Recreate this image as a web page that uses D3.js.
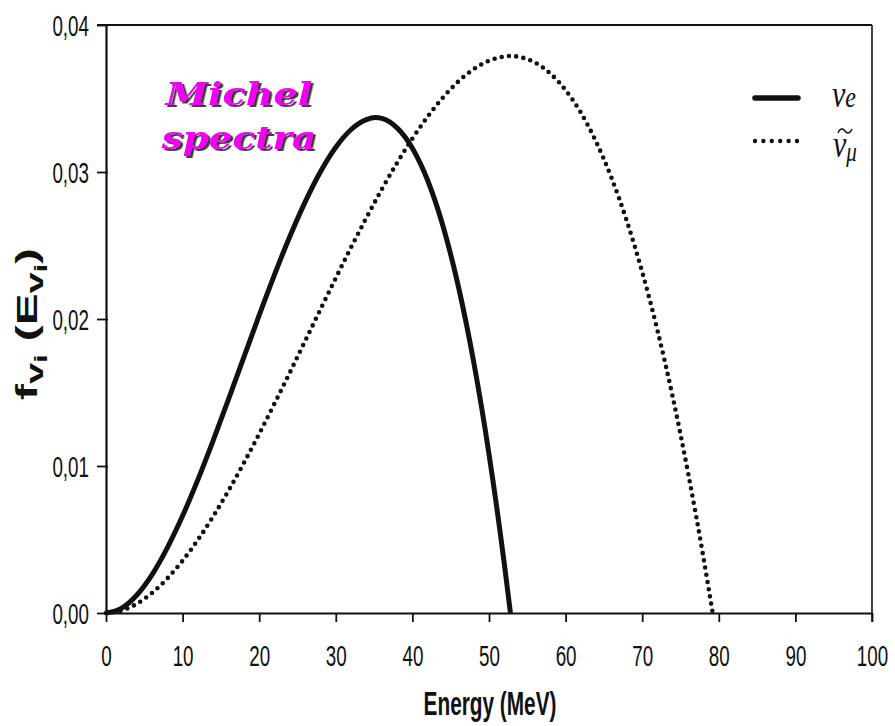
<!DOCTYPE html>
<html><head><meta charset="utf-8">
<script src="https://cdn.jsdelivr.net/npm/d3@7"></script>
<style>
html,body{margin:0;padding:0;background:#fff;}
svg{display:block;}
</style></head>
<body>
<svg id="chart" width="895" height="726"></svg>
<script>
// ---- data ----
const energyNuE = [0,2,4,6,8,10,12,14,16,18,20,22,24,26,28,30,32,34,35.2,36,38,40,42,44,46,48,50,52,52.8];
const fluxNuE   = [0,0.00031,0.00121,0.00260,0.00443,0.00661,0.00907,0.01174,0.01455,0.01741,0.02026,0.02302,0.02561,0.02797,0.03002,0.03168,0.03289,0.03356,0.03370,0.03365,0.03300,0.03162,0.02942,0.02631,0.02222,0.01708,0.01081,0.00334,0];
const energyNuMu = [0,2,4,6,8,10,12,14,16,18,20,22,24,26,28,30,32,34,36,38,40,42,44,46,48,50,52,52.8,54,56,58,60,62,64,66,68,70,72,74,76,78,79.2];
const fluxNuMu   = [0,0.00016,0.00062,0.00136,0.00235,0.00356,0.00498,0.00658,0.00833,0.01021,0.01219,0.01425,0.01636,0.01851,0.02066,0.02279,0.02488,0.02689,0.02882,0.03062,0.03228,0.03377,0.03507,0.03616,0.03700,0.03757,0.03785,0.03790,0.03782,0.03745,0.03670,0.03557,0.03403,0.03204,0.02959,0.02665,0.02320,0.01921,0.01466,0.00951,0.00376,0];
const xTicks = [0,10,20,30,40,50,60,70,80,90,100];
const yTicks = [0,0.01,0.02,0.03,0.04];
const xTitle = "Energy (MeV)";
const annotation = ["Michel", "spectra"];

// ---- layout ----
const svg = d3.select("#chart");
const L = 106, R = 872, T = 25, B = 613;
const x = d3.scaleLinear().domain([0,100]).range([L,R]);
const y = d3.scaleLinear().domain([0,0.04]).range([B,T]);
const SX = 0.8, SY = 1.25;
const ink = "#111";

const defs = svg.append("defs");
defs.append("filter").attr("id","shadow").attr("x","-10%").attr("y","-20%").attr("width","130%").attr("height","150%")
  .append("feDropShadow").attr("dx",1.8).attr("dy",1.8).attr("stdDeviation",0.3)
  .attr("flood-color","#3a3a3a").attr("flood-opacity",1);

// frame (top and right)
svg.append("line").attr("x1",97).attr("x2",R).attr("y1",T).attr("y2",T)
  .attr("stroke",ink).attr("stroke-width",2.2);
svg.append("line").attr("x1",R).attr("x2",R).attr("y1",T).attr("y2",B+9)
  .attr("stroke",ink).attr("stroke-width",1.6);

// axes
const fmt = d => d3.format(".2f")(d).replace(".", ",");
const gx = svg.append("g").attr("transform",`translate(0,${B})`)
  .call(d3.axisBottom(x).tickValues(xTicks).tickSize(9).tickSizeOuter(0).tickFormat(d3.format("d")));
const gy = svg.append("g").attr("transform",`translate(${L},0)`)
  .call(d3.axisLeft(y).tickValues(yTicks).tickSize(9).tickSizeOuter(0).tickFormat(fmt));
[gx,gy].forEach(g=>{
  g.select(".domain").attr("stroke",ink).attr("stroke-width",2.2);
  g.selectAll(".tick line").attr("stroke",ink).attr("stroke-width",1.8);
  g.selectAll(".tick text").attr("font-family","'Liberation Sans', Arial, sans-serif")
    .attr("font-size",23.5).attr("fill",ink).attr("dy",null);
});
gy.selectAll(".tick line").attr("x2",-9).attr("x1",2);
gx.selectAll(".tick text").attr("x",0).attr("y",53/SY).attr("text-anchor","middle")
  .attr("transform",`scale(${SX},${SY})`);
gy.selectAll(".tick text").attr("x",-17/SX).attr("y",10.5/SY).attr("text-anchor","end")
  .attr("transform",`scale(${SX},${SY})`);

// x title
svg.append("text").attr("transform",`translate(490,715) scale(${SX},${SY})`)
  .attr("text-anchor","middle").attr("font-family","'Liberation Sans', Arial, sans-serif")
  .attr("font-weight","bold").attr("font-size",26).attr("fill",ink).text(xTitle);

// y title: f_{v_i} (E_{v_i})
const yt = svg.append("text").attr("text-anchor","middle")
  .attr("font-family","'Liberation Sans', Arial, sans-serif").attr("font-weight","bold")
  .attr("font-size",29).attr("fill",ink);
yt.append("tspan").text("f");
yt.append("tspan").attr("font-size",23).attr("dy",6).text("v");
yt.append("tspan").attr("font-size",18).attr("dy",4).text("i");
yt.append("tspan").attr("dy",-10).text(" (E");
yt.append("tspan").attr("font-size",23).attr("dy",6).text("v");
yt.append("tspan").attr("font-size",18).attr("dy",4).text("i");
yt.append("tspan").attr("dy",-10).text(")");
const ytw = yt.node().getBBox().width;
yt.attr("transform",`translate(37,324) rotate(-90) scale(${152/ytw},1)`);

// curves
const line = d3.line().x(d=>x(d[0])).y(d=>y(d[1])).curve(d3.curveMonotoneX);
svg.append("path").datum(d3.zip(energyNuMu, fluxNuMu)).attr("d",line)
  .attr("fill","none").attr("stroke",ink).attr("stroke-width",4.6)
  .attr("stroke-linecap","round").attr("stroke-dasharray","0 7.3");
svg.append("path").datum(d3.zip(energyNuE, fluxNuE)).attr("d",line)
  .attr("fill","none").attr("stroke",ink).attr("stroke-width",5);

// legend
svg.append("line").attr("x1",755).attr("x2",798).attr("y1",98).attr("y2",98)
  .attr("stroke",ink).attr("stroke-width",5.5).attr("stroke-linecap","round");
svg.append("line").attr("x1",755).attr("x2",797).attr("y1",141).attr("y2",141)
  .attr("stroke",ink).attr("stroke-width",4.4).attr("stroke-linecap","round").attr("stroke-dasharray","0 8.4");
const serif = "'Liberation Serif','Times New Roman',serif";
const l1 = svg.append("text").attr("transform",`translate(832,107) scale(1,${SY})`)
  .attr("font-family",serif).attr("font-style","italic").attr("font-size",30).attr("fill",ink);
l1.append("tspan").text("ν");
l1.append("tspan").attr("font-size",24).attr("dy",0).text("e");
const l2 = svg.append("text").attr("transform",`translate(833,157) scale(1,${SY})`)
  .attr("font-family",serif).attr("font-style","italic").attr("font-size",30).attr("fill",ink);
l2.append("tspan").text("ν");
l2.append("tspan").attr("font-size",21).attr("dy",3).text("μ");
// tilde accent over the nu
svg.append("path").attr("d","M838,133 C840,128 843,128 845,131 C847,134 850,134 852,129")
  .attr("fill","none").attr("stroke",ink).attr("stroke-width",1.4);

// annotation
const ann = [{t:annotation[0], y:105, w:148},{t:annotation[1], y:149, w:156}];
ann.forEach(a=>{
  const t = svg.append("text").attr("text-anchor","middle")
    .attr("font-family","'DejaVu Serif',serif").attr("font-weight","bold").attr("font-style","italic")
    .attr("font-size",28).attr("fill","#f000f0").attr("filter","url(#shadow)").text(a.t);
  const w = t.node().getBBox().width;
  t.attr("transform",`translate(239,${a.y}) scale(${a.w/w},1.1)`);
});
</script>
</body></html>
